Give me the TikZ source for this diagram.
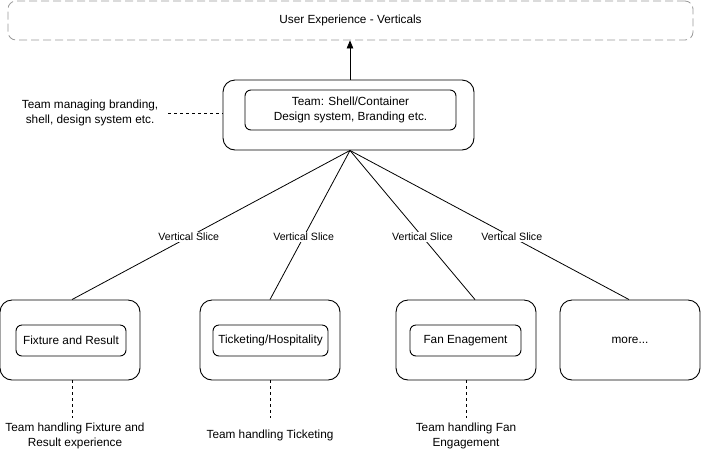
\documentclass[tikz,border=0pt]{standalone}
\usepackage{fontspec}
\setmainfont{Liberation Sans}
\usetikzlibrary{calc,arrows.meta}
\begin{document}
\begin{tikzpicture}[x=1pt,y=-1pt,
  outerbox/.style={draw,line width=0.9pt,rounded corners=12pt,minimum width=140pt,minimum height=80pt,inner sep=0pt},
  innerbox/.style={draw,line width=0.9pt,rounded corners=6pt,inner sep=0pt,font=\fontsize{11.8}{14.5}\selectfont,align=center},
  txt/.style={font=\fontsize{11.8}{14.5}\selectfont,align=center,inner sep=0pt},
  slice/.style={font=\fontsize{10.6}{12}\selectfont,fill=white,inner sep=1pt},
  conn/.style={line width=0.8pt},
  dsh/.style={line width=0.8pt,dash pattern=on 3pt off 3pt}]
\useasboundingbox (0,0) rectangle (701,451);
\node[draw=black!40,line width=0.8pt,dash pattern=on 8pt off 4pt,rounded corners=8pt,minimum width=685pt,minimum height=39pt,inner sep=0pt,font=\fontsize{11.8}{14.5}\selectfont] (ux) at (350.5,20.5) {User Experience - Verticals};
\node[outerbox,minimum width=251pt,minimum height=70pt] (shell) at (348.5,115) {};
\node[innerbox,minimum width=211pt,minimum height=40pt] (shellin) at (350.5,110) {Team: Shell/Container\\Design system, Branding etc.};
\node[txt,anchor=east] (shelllbl) at (158.5,113) {Team managing branding,\\shell, design system etc.};
\draw[dsh] (shelllbl.east -| 168,116) coordinate (sl) -- (sl -| shell.west);
\coordinate (stop) at ($(shell.north)+(1.5,0)$);
\coordinate (sbot) at ($(shell.south)+(1.5,0)$);
\draw[conn,-{Triangle[length=8pt,width=6.5pt]}] (stop) -- (stop |- ux.south);
\node[outerbox] (b1) at (70,340) {};
\node[innerbox,minimum width=110pt,minimum height=31pt] (i1) at (71,340.5) {Fixture and Result};
\node[outerbox] (b2) at (270,340) {};
\node[innerbox,minimum width=115pt,minimum height=31pt] (i2) at (270.5,340.5) {Ticketing/Hospitality};
\node[outerbox] (b3) at (466,340) {};
\node[innerbox,minimum width=111pt,minimum height=31pt] (i3) at (465.5,340.5) {Fan Enagement};
\node[outerbox,txt] (b4) at (630,340) {more...};
\draw[conn] (sbot) -- node[slice,pos=0.58] {Vertical Slice} ($(b1.north)+(2,0)$);
\draw[conn] (sbot) -- node[slice,pos=0.58] {Vertical Slice} (b2.north);
\draw[conn] (sbot) -- node[slice,pos=0.58] {Vertical Slice} ($(b3.north)+(9,0)$);
\draw[conn] (sbot) -- node[slice,pos=0.58] {Vertical Slice} ($(b4.north)+(-1,0)$);
\node[txt] (t1) at (75,436) {Team handling Fixture and\\Result experience};
\node[txt] (t2) at (270,435.5) {Team handling Ticketing};
\node[txt] (t3) at (466,436) {Team handling Fan\\Engagement};
\draw[dsh] ($(b1.south)+(2,0)$) -- ++(0,38);
\draw[dsh] (b2.south) -- ++(0,38);
\draw[dsh] (b3.south) -- ++(0,38);
\end{tikzpicture}
\end{document}
